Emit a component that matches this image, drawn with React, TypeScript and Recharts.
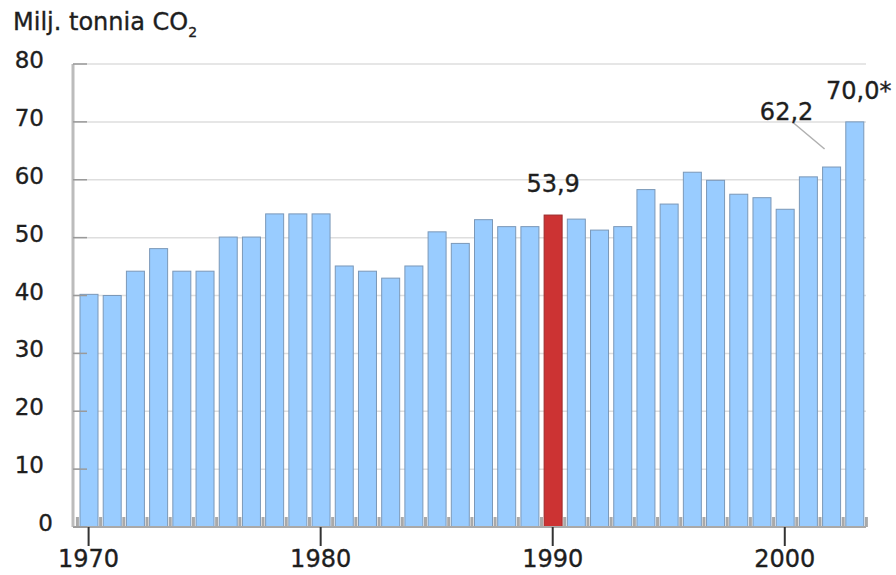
import React from 'react';
import { BarChart, Bar, XAxis, YAxis, CartesianGrid, LabelList } from 'recharts';

// Annual CO2 emissions, million tonnes
const YEARS = [
  1970, 1971, 1972, 1973, 1974, 1975, 1976, 1977, 1978, 1979,
  1980, 1981, 1982, 1983, 1984, 1985, 1986, 1987, 1988, 1989,
  1990, 1991, 1992, 1993, 1994, 1995, 1996, 1997, 1998, 1999,
  2000, 2001, 2002, 2003,
];
const EMISSIONS = [
  40.2, 40.0, 44.2, 48.1, 44.2, 44.2, 50.1, 50.1, 54.1, 54.1,
  54.1, 45.1, 44.2, 43.0, 45.1, 51.0, 49.0, 53.1, 51.9, 51.9,
  53.9, 53.2, 51.3, 51.9, 58.3, 55.8, 61.3, 59.9, 57.5, 56.9,
  54.9, 60.5, 62.2, 70.0,
];
const Y_TICKS = [0, 10, 20, 30, 40, 50, 60, 70, 80];
const X_TICK_YEARS = [1970, 1980, 1990, 2000];
const BASE_YEAR = 1990;
const NOTED_YEARS = [1990, 2002, 2003];
const NOTE_MARKS = ['', '', '*'];

const data = YEARS.map((year, i) => ({ year, value: EMISSIONS[i] }));

// Layout
const W = 896;
const H = 575;
const MARGIN = { top: 64, right: 30, bottom: 0, left: 0 };
const Y_AXIS_W = 73;
const X_AXIS_H = 48;
const PAD_LEFT = 4;
const BAND = (W - MARGIN.right - Y_AXIS_W - PAD_LEFT) / YEARS.length;

const FONT = '"DejaVu Sans", Verdana, sans-serif';
const TEXT = '#1e1e1e';
const TEXT_STYLE = { stroke: TEXT, strokeWidth: 0.35 };

// Label placement relative to the top centre of the bar
const NOTE_LAYOUT: Record<number, { dx: number; dy: number; leader?: [number, number, number, number] }> = {
  1990: { dx: 0, dy: -31 },
  2002: { dx: -45, dy: -55, leader: [-38, -44, -7, -18] },
  2003: { dx: 4, dy: -31 },
};

const BarShape = (props: any) => {
  const { x, y, width, height, payload, index } = props;
  const isBase = payload.year === BASE_YEAR;
  const cx = x + width / 2;
  const bottom = y + height;
  const marks = [cx + BAND / 2];
  if (index === 0) marks.unshift(cx - BAND / 2);
  return (
    <g>
      <rect
        x={x}
        y={y}
        width={width}
        height={height}
        fill={isBase ? '#cc3333' : '#99ccff'}
        stroke={isBase ? '#9c2a2a' : '#7b98b8'}
        strokeWidth={1}
      />
      {marks.map((mx, i) => (
        <rect key={i} x={mx - 1.5} y={bottom - 10} width={3} height={10} fill="#a9a9a9" />
      ))}
    </g>
  );
};

const YTick = (props: any) => {
  const { x, y, payload } = props;
  const v = payload.value;
  return (
    <g>
      <line x1={x} x2={x + 14} y1={y} y2={y} stroke="#9a9a9a" strokeWidth={1.5} />
      <text
        x={v === 0 ? x - 20 : x - 29}
        y={y - 4}
        textAnchor="end"
        dominantBaseline="central"
        fontFamily={FONT}
        fontSize={23}
        fill={TEXT}
        style={TEXT_STYLE}
      >
        {v}
      </text>
    </g>
  );
};

const XTick = (props: any) => {
  const { x, y, payload } = props;
  if (!X_TICK_YEARS.includes(payload.value)) return <g />;
  return (
    <g>
      <line x1={x} x2={x} y1={y} y2={y + 19} stroke="#333" strokeWidth={2} />
      <text
        x={x}
        y={y + 32}
        textAnchor="middle"
        dominantBaseline="central"
        fontFamily={FONT}
        fontSize={24}
        fill={TEXT}
        style={TEXT_STYLE}
      >
        {payload.value}
      </text>
    </g>
  );
};

const NoteLabel = (props: any) => {
  const { x, y, width, value, index } = props;
  const year = YEARS[index];
  const k = NOTED_YEARS.indexOf(year);
  if (k < 0) return <g />;
  const layout = NOTE_LAYOUT[year];
  const cx = x + width / 2;
  const text = Number(value).toFixed(1).replace('.', ',') + NOTE_MARKS[k];
  return (
    <g>
      {layout.leader && (
        <line
          x1={cx + layout.leader[0]}
          y1={y + layout.leader[1]}
          x2={cx + layout.leader[2]}
          y2={y + layout.leader[3]}
          stroke="#b0b0b0"
          strokeWidth={1.5}
        />
      )}
      <text
        x={cx + layout.dx}
        y={y + layout.dy}
        textAnchor="middle"
        dominantBaseline="central"
        fontFamily={FONT}
        fontSize={24}
        fill={TEXT}
        style={TEXT_STYLE}
      >
        {text}
      </text>
    </g>
  );
};

export default function App() {
  return (
    <div style={{ position: 'absolute', left: 0, top: 0, width: W, height: H, background: '#fff' }}>
      <svg
        width={W}
        height={48}
        style={{ position: 'absolute', left: 0, top: 0, pointerEvents: 'none' }}
      >
        <text x={13} y={30} fontFamily={FONT} fontSize={24} fill={TEXT} style={TEXT_STYLE}>
          Milj. tonnia CO
          <tspan fontSize={14} dy={7}>2</tspan>
        </text>
      </svg>
      <BarChart width={W} height={H} data={data} margin={MARGIN} barSize={18}>
        <CartesianGrid vertical={false} stroke="#dedede" strokeWidth={1.5} />
        <XAxis
          dataKey="year"
          interval={0}
          height={X_AXIS_H}
          tickLine={false}
          tickSize={0}
          tickMargin={0}
          axisLine={{ stroke: '#a9a9a9', strokeWidth: 2 }}
          padding={{ left: PAD_LEFT, right: 0 }}
          tick={<XTick />}
        />
        <YAxis
          width={Y_AXIS_W}
          domain={[0, 80]}
          ticks={Y_TICKS}
          interval={0}
          tickLine={false}
          tickSize={0}
          tickMargin={0}
          axisLine={{ stroke: '#bcbcbc', strokeWidth: 3 }}
          tick={<YTick />}
        />
        <Bar dataKey="value" shape={<BarShape />} isAnimationActive={false}>
          <LabelList dataKey="value" content={<NoteLabel />} />
        </Bar>
      </BarChart>
    </div>
  );
}
